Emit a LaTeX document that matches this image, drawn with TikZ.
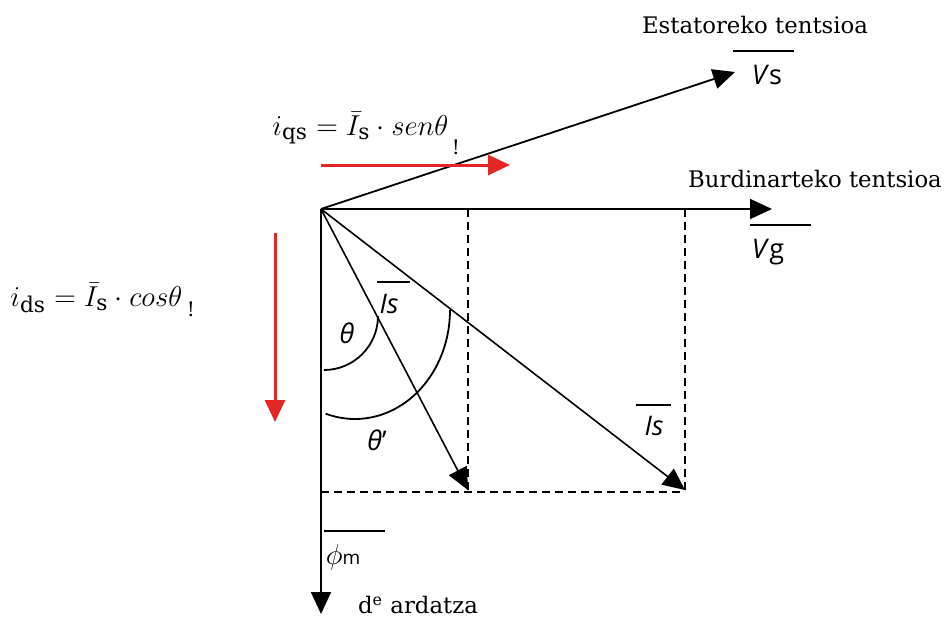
\documentclass[tikz,border=0pt]{standalone}
\usepackage{fontspec}
\usepackage{amsmath}
\setmainfont{DejaVu Serif}
\newfontfamily\lblfont{Open Sans}
\usetikzlibrary{arrows.meta}
\definecolor{vecred}{RGB}{228,38,38}
\tikzset{
    vec/.style={line width=0.9pt, -{Triangle[length=11pt,width=10pt]}},
    redvec/.style={vecred, line width=1.5pt, -{Triangle[length=11pt,width=10pt]}},
    proj/.style={line width=0.8pt, dash pattern=on 4pt off 2.5pt},
    ovbar/.style={line width=1pt},
    lbl/.style={font=\lblfont\fontsize{13.5}{16}\selectfont, inner sep=0pt},
    txt/.style={font=\fontsize{11.4}{13}\selectfont, inner sep=0pt},
    eq/.style={font=\fontsize{15.5}{17}\selectfont, inner sep=0pt}
}
\begin{document}
\begin{tikzpicture}[x=0.5pt, y=-0.5pt]
    \useasboundingbox (0,0) rectangle (948,616);
    % points
    \coordinate (O) at (321,209);
    \coordinate (vs) at (735,72);
    \coordinate (vg) at (772,209);
    \coordinate (dax) at (321,614);
    \coordinate (is1) at (468,490);
    \coordinate (is2) at (685,490);
    % projections
    \draw[proj] (468,209) -- (468,492);
    \draw[proj] (685,209) -- (685,492);
    \draw[proj] (321,492) -- (685,492);
    % vectors
    \draw[vec] (O) -- (vs);
    \draw[vec] (O) -- (vg);
    \draw[vec] (O) -- (dax);
    \draw[vec, line width=0.8pt] (O) -- (is1);
    \draw[vec, line width=0.8pt] (O) -- (is2);
    % angles
    \draw[line width=0.9pt] (378,316) arc[start angle=0, end angle=90, radius=54];
    \draw[line width=0.9pt] (450,310) arc[start angle=0, end angle=108, x radius=95, y radius=109];
    \node[lbl] (th) at (347,333) {\textit{θ}};
    \node[lbl] (thp) at (377,440) {\textit{θ}\textquoteright};
    % red components
    \coordinate (qa) at (321,165);
    \coordinate (qb) at (510,165);
    \coordinate (da) at (275,233);
    \coordinate (db) at (275,422);
    \draw[redvec] (qa) -- (qb);
    \draw[redvec] (da) -- (db);
    % labels
    \node[txt] (est) at (755,25) {Estatoreko tentsioa};
    \draw[ovbar] (733,51) -- (794,51);
    \node[lbl] (vsl) at (767,75) {\textit{V}s};
    \node[txt] (bur) at (815,179) {Burdinarteko tentsioa};
    \draw[ovbar] (750,225) -- (811,225);
    \node[lbl] (vgl) at (768,252) {\textit{V}g};
    \draw[ovbar] (377,282) -- (410,282);
    \node[lbl] (isa) at (389,304) {\textit{Is}};
    \draw[ovbar] (636,405) -- (671,405);
    \node[lbl] (isb) at (654,426) {\textit{Is}};
    \draw[ovbar] (324,531) -- (385,531);
    \node[lbl] (phi) at (343,557) {$\phi$\fontsize{9.5}{10}\selectfont m};
    \node[txt] (ard) at (418,605) {d\textsuperscript{e} ardatza};
    \node[eq, anchor=west] (iqs) at (272,128) {$i_{\mathrm{qs}} = \bar{I}_{\mathrm{s}} \cdot sen\theta$};
    \node[eq] (iqsx) at (456,147) {\fontsize{10}{11}\selectfont !};
    \node[eq, anchor=west] (ids) at (10,298) {$i_{\mathrm{ds}} = \bar{I}_{\mathrm{s}} \cdot cos\theta$};
    \node[eq] (idsx) at (191,309) {\fontsize{10}{11}\selectfont !};
\end{tikzpicture}
\end{document}
